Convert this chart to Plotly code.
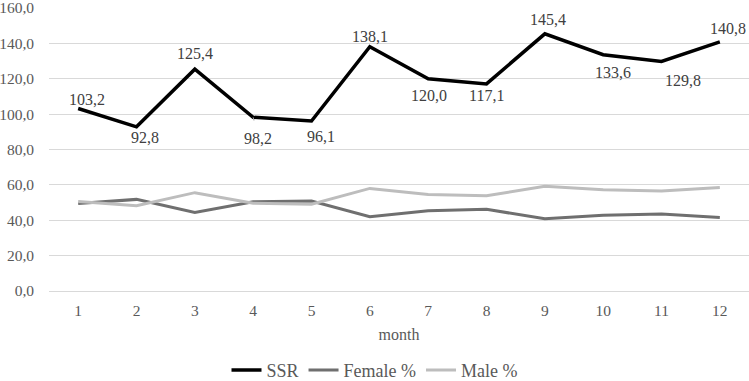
import plotly.graph_objects as go

months = [1, 2, 3, 4, 5, 6, 7, 8, 9, 10, 11, 12]
ssr = [103.2, 92.8, 125.4, 98.2, 96.1, 138.1, 120.0, 117.1, 145.4, 133.6, 129.8, 140.8]
female_pct = [49.4, 51.8, 44.4, 50.4, 50.9, 42.0, 45.4, 46.2, 40.8, 42.8, 43.5, 41.5]
male_pct = [50.6, 48.2, 55.6, 49.6, 49.1, 58.0, 54.6, 53.8, 59.2, 57.2, 56.5, 58.5]
y_ticks = [0, 20, 40, 60, 80, 100, 120, 140, 160]

# label offsets (px) for SSR data labels
label_dx = [9, 8, 0, 5, 9, 0, 1, 0, 3, 10, 21, 8]
label_dy = [9, -11, 16, -21, -15, 10, -17, -12, 14, -18, -19, 13]
leader = [False, False, False, True, False, False, False, False, False, False, False, False]

FONT = "Liberation Serif"

fig = go.Figure()
fig.add_trace(go.Scatter(x=months, y=ssr, mode="lines", name="SSR",
                         line=dict(color="#000000", width=3.5)))
fig.add_trace(go.Scatter(x=months, y=female_pct, mode="lines", name="Female %",
                         line=dict(color="#6f6f6f", width=3)))
fig.add_trace(go.Scatter(x=months, y=male_pct, mode="lines", name="Male %",
                         line=dict(color="#bdbdbd", width=3)))

for m, v, dx, dy, ld in zip(months, ssr, label_dx, label_dy, leader):
    txt = f"{v:.1f}".replace(".", ",")
    if ld:
        fig.add_annotation(x=m, y=v, text=txt, showarrow=True, arrowhead=0,
                           arrowwidth=1, arrowcolor="#a6a6a6", ax=dx, ay=-dy,
                           standoff=0, startstandoff=8,
                           font=dict(family=FONT, size=16, color="#404040"))
    else:
        fig.add_annotation(x=m, y=v, text=txt, showarrow=False,
                           xshift=dx, yshift=dy,
                           font=dict(family=FONT, size=16, color="#404040"))

fig.update_layout(
    width=749, height=381,
    margin=dict(l=49, r=0, t=8, b=90, autoexpand=False),
    paper_bgcolor="white", plot_bgcolor="white",
    separators=", ",
    font=dict(family=FONT, size=15.5, color="#595959"),
    showlegend=True,
    legend=dict(orientation="h", xref="container", x=0.5, xanchor="center",
                y=-0.28, yanchor="middle",
                font=dict(family=FONT, size=18, color="#595959"),
                itemwidth=30, tracegroupgap=0),
    xaxis=dict(range=[0.5, 12.5], tickmode="array", tickvals=months,
               ticktext=[str(m) for m in months], showgrid=False, zeroline=False,
               showline=False, ticks="", ticklen=0, automargin=False,
               ticklabelstandoff=8,
               title=dict(text="month", standoff=11, font=dict(family=FONT, size=16, color="#595959"))),
    yaxis=dict(range=[0, 160], tickmode="array", tickvals=y_ticks,
               ticktext=[f"{t:.1f}".replace(".", ",") for t in y_ticks], showgrid=True,
               gridcolor="#d9d9d9", gridwidth=1, zeroline=True, zerolinecolor="#d9d9d9",
               zerolinewidth=1, showline=False, ticks="", ticklen=0,
               automargin=False, ticklabelstandoff=14, ticklabeloverflow="allow"),
)

fig.write_html("out.html", config={"displayModeBar": False},
               post_script="document.body.style.margin='0px';document.body.style.padding='0px';")
